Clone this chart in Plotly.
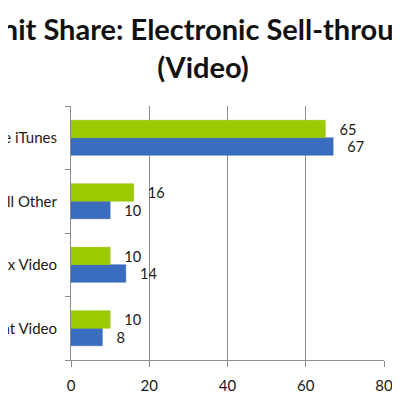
import plotly.graph_objects as go

# categories listed bottom to top, like the Excel original
stores = ["Amazon Instant Video", "Microsoft Xbox Video", "All Other", "Apple iTunes"]
share_blue = [8, 14, 10, 67]
share_green = [10, 10, 16, 65]
x_ticks = [0, 20, 40, 60, 80]

fig = go.Figure()
fig.add_trace(go.Bar(
    y=stores, x=share_blue, orientation="h", name="Series 1",
    marker=dict(color="#3a6cc0", line=dict(color="#2f5ea8", width=0.5)),
    text=share_blue, texttemplate="   %{x}", textposition="outside",
    textfont=dict(size=15, color="#1a1a1a", family="Lato"),
    cliponaxis=False,
))
fig.add_trace(go.Bar(
    y=stores, x=share_green, orientation="h", name="Series 2",
    marker=dict(color="#9bcb00", line=dict(color="#8dbb00", width=0.5)),
    text=share_green, texttemplate="   %{x}", textposition="outside",
    textfont=dict(size=15, color="#1a1a1a", family="Lato"),
    cliponaxis=False,
))

fig.update_layout(
    width=400, height=400,
    barmode="group", bargap=0.45, bargroupgap=0,
    showlegend=False,
    plot_bgcolor="white", paper_bgcolor="white",
    margin=dict(l=63, r=24, t=98, b=48, autoexpand=False),
    font=dict(family="Lato", color="#1a1a1a"),
    title=dict(
        text="<b>Unit Share: Electronic Sell-through<br>(Video)</b>",
        x=0.4875, xanchor="center", y=0.92, yanchor="middle",
        font=dict(size=29, family="Lato", color="#111111"),
    ),
    xaxis=dict(
        range=[0, 80], tickvals=x_ticks, showgrid=True, gridcolor="#8c8c8c",
        gridwidth=1, zeroline=False, showline=True, linecolor="#8c8c8c",
        ticks="outside", ticklen=6, tickcolor="#8c8c8c", automargin=False,
        ticklabelstandoff=6,
        tickfont=dict(size=15, family="Lato", color="#1a1a1a"),
    ),
    yaxis=dict(
        showline=True, linecolor="#8c8c8c", ticks="outside", ticklen=5,
        tickcolor="#8c8c8c", tickson="boundaries", ticklabelstandoff=10,
        automargin=False,
        tickfont=dict(size=15, family="Lato", color="#1a1a1a"),
    ),
)

fig.write_html("out.html")
